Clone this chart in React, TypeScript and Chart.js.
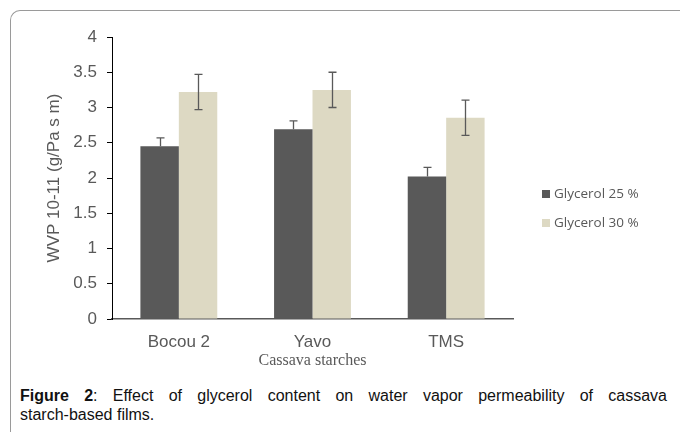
import React, { useEffect, useRef } from "react";
import { Chart, registerables } from "chart.js";

Chart.register(...registerables);

const categories = ["Bocou 2", "Yavo", "TMS"];
const seriesLabels = ["Glycerol 25 %", "Glycerol 30 %"];
const glycerol25 = [2.45, 2.69, 2.02];
const glycerol25Err = [0.12, 0.12, 0.13];
const glycerol30 = [3.22, 3.25, 2.855];
const glycerol30Err = [0.25, 0.25, 0.25];
const yMin = 0;
const yMax = 4;
const yStep = 0.5;
const yTitle = "WVP 10-11 (g/Pa s m)";
const xTitle = "Cassava starches";
const captionLead = "Figure 2";
const captionLine1 = ": Effect of glycerol content on water vapor permeability of cassava";
const captionLine2 = "starch-based films.";

const DARK = "#595959";
const LIGHT = "#ddd9c3";
const TEXT = "#595959";

const errorBarPlugin = {
  id: "errorBars",
  afterDatasetsDraw(chart: any) {
    const ctx = chart.ctx;
    const ys = chart.scales.y;
    chart.data.datasets.forEach((ds: any, i: number) => {
      const meta = chart.getDatasetMeta(i);
      meta.data.forEach((bar: any, j: number) => {
        const v = ds.data[j];
        const e = ds.errors[j];
        const yTop = ys.getPixelForValue(v + e);
        const yBot = ds.plusOnly ? ys.getPixelForValue(v) : ys.getPixelForValue(v - e);
        const x = Math.round(bar.x) + 0.5;
        ctx.save();
        ctx.strokeStyle = "#595959";
        ctx.lineWidth = 1.3;
        ctx.beginPath();
        ctx.moveTo(x, yTop);
        ctx.lineTo(x, yBot);
        ctx.moveTo(x - 4, yTop);
        ctx.lineTo(x + 4, yTop);
        if (!ds.plusOnly) {
          ctx.moveTo(x - 4, yBot);
          ctx.lineTo(x + 4, yBot);
        }
        ctx.stroke();
        ctx.restore();
      });
    });
  },
};

const legendPlugin = {
  id: "sideLegend",
  afterDraw(chart: any) {
    const ctx = chart.ctx;
    const x0 = 542;
    const yCenters = [194, 223];
    ctx.save();
    chart.data.datasets.forEach((ds: any, i: number) => {
      const yc = yCenters[i];
      ctx.fillStyle = ds.backgroundColor;
      ctx.fillRect(x0, yc - 4, 8, 8);
      ctx.fillStyle = TEXT;
      ctx.font = "13.5px 'Open Sans', sans-serif";
      ctx.textBaseline = "middle";
      ctx.textAlign = "left";
      ctx.fillText(ds.label, x0 + 12, yc);
    });
    ctx.restore();
  },
};

function WvpChart() {
  const ref = useRef<HTMLCanvasElement | null>(null);
  useEffect(() => {
    if (!ref.current) return;
    const chart = new Chart(ref.current, {
      type: "bar",
      data: {
        labels: categories,
        datasets: [
          {
            label: seriesLabels[0],
            data: glycerol25,
            errors: glycerol25Err,
            plusOnly: true,
            backgroundColor: DARK,
            categoryPercentage: 0.575,
            barPercentage: 1,
          } as any,
          {
            label: seriesLabels[1],
            data: glycerol30,
            errors: glycerol30Err,
            plusOnly: false,
            backgroundColor: LIGHT,
            categoryPercentage: 0.575,
            barPercentage: 1,
          } as any,
        ],
      },
      options: {
        animation: false,
        responsive: false,
        maintainAspectRatio: false,
        layout: { padding: { left: 0, right: 167, top: 37, bottom: 0 } },
        plugins: {
          legend: { display: false },
          tooltip: { enabled: false },
        },
        scales: {
          x: {
            grid: { display: false, drawTicks: true, tickLength: 8 },
            border: { display: true, color: "#595959", width: 1.5 },
            ticks: {
              color: TEXT,
              font: { family: "'Liberation Sans', Arial, sans-serif", size: 17 },
              padding: 5,
            },
            title: {
              display: true,
              text: xTitle,
              color: TEXT,
              font: { family: "'Liberation Serif', 'Times New Roman', serif", size: 16 },
              padding: { top: 0, bottom: 10 },
            },
            afterFit: (s: any) => {
              s.height = 61;
            },
          },
          y: {
            min: yMin,
            max: yMax,
            ticks: {
              stepSize: yStep,
              color: TEXT,
              font: { family: "'Liberation Sans', Arial, sans-serif", size: 17 },
              padding: 10,
              callback: (v: any) => String(Number(v)),
            },
            grid: { drawOnChartArea: false, drawTicks: true, tickLength: 5, color: "#000" },
            border: { display: true, color: "#000", width: 1 },
            title: {
              display: true,
              text: yTitle,
              color: TEXT,
              font: { family: "'Liberation Sans', Arial, sans-serif", size: 17 },
              padding: { top: 44, bottom: 0 },
            },
            afterFit: (s: any) => {
              s.width = 112;
            },
          },
        },
      },
      plugins: [errorBarPlugin, legendPlugin],
    });
    return () => chart.destroy();
  }, []);
  return <canvas ref={ref} width={680} height={380} style={{ position: "absolute", left: 0, top: 0 }} />;
}

export default function App() {
  const capStyle: React.CSSProperties = {
    position: "absolute",
    left: 20,
    width: 647,
    fontFamily: "'Liberation Sans', Arial, sans-serif",
    fontSize: 16,
    lineHeight: "19px",
    color: "#111",
    whiteSpace: "nowrap",
  };
  return (
    <div
      style={{
        position: "absolute",
        left: 0,
        top: 0,
        width: 680,
        height: 432,
        overflow: "hidden",
        background: "#fff",
      }}
    >
      <div
        style={{
          position: "absolute",
          left: 10,
          top: 10,
          width: 700,
          height: 460,
          borderTop: "1.5px solid #9a9a9a",
          borderLeft: "1.5px solid #9a9a9a",
          borderTopLeftRadius: 10,
        }}
      />
      <WvpChart />
      <div style={{ ...capStyle, top: 386, whiteSpace: "normal", textAlign: "justify", textAlignLast: "justify" }}>
        <b>{captionLead}</b>
        {captionLine1}
      </div>
      <div style={{ ...capStyle, top: 405 }}>{captionLine2}</div>
    </div>
  );
}
